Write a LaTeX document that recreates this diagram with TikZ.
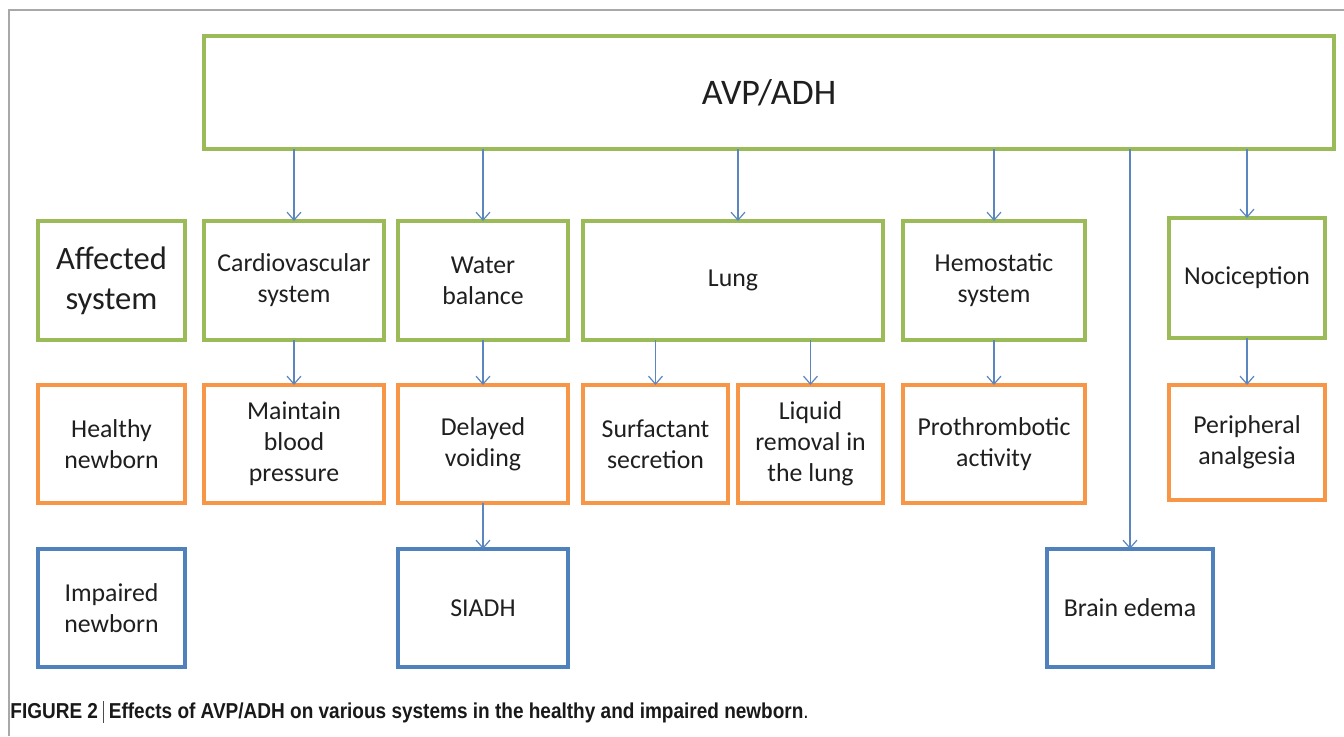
\documentclass[tikz,border=0pt]{standalone}
\usepackage{fontspec}
\setmainfont{Carlito}
\newfontfamily\capfont[FakeStretch=0.88]{Liberation Sans}
\usetikzlibrary{arrows.meta}
\definecolor{bgreen}{HTML}{9BBB59}
\definecolor{borange}{HTML}{F79646}
\definecolor{bblue}{HTML}{4F81BD}
\definecolor{arrcol}{HTML}{5B86BF}
\definecolor{framegray}{HTML}{A8A8A8}
\tikzset{
  box/.style={draw, line width=1.8pt, fill=white, inner sep=2pt, outer sep=0pt, align=center,
    font=\fontsize{12.9}{15.5}\selectfont, text=black!88},
  gbox/.style={box, draw=bgreen},
  obox/.style={box, draw=borange},
  bbox/.style={box, draw=bblue},
  arr/.style={draw=arrcol, line width=0.6pt, -{Straight Barb[length=4pt,width=7pt,line width=0.6pt]}},
}
\begin{document}
\begin{tikzpicture}[x=0.5pt,y=-0.5pt]
\useasboundingbox (0,0) rectangle (1344,736);
\draw[framegray, line width=0.8pt] (9,736) -- (9,10) -- (1344,10);

% top
\node[gbox, minimum width=565pt, minimum height=56.5pt, font=\fontsize{18}{21}\selectfont] (avp) at (769,92.5) {AVP/ADH};

% row 1
\node[gbox, minimum width=73.5pt, minimum height=59.5pt, font=\fontsize{16.3}{20}\selectfont] (aff) at (111.5,280.5) {Affected\\system};
\node[gbox, minimum width=90pt, minimum height=59.5pt] (cardio) at (294,280.5) {Cardiovascular\\system};
\node[gbox, minimum width=85pt, minimum height=59.5pt] (water) at (483,280.5) {Water\\balance};
\node[gbox, minimum width=150pt, minimum height=59.5pt] (lung) at (733,280.5) {Lung};
\node[gbox, minimum width=91pt, minimum height=59.5pt] (hemo) at (994,280.5) {Hemostatic\\system};
\node[gbox, minimum width=78pt, minimum height=60pt] (noci) at (1247,278) {Nociception};

% row 2
\node[obox, minimum width=73.5pt, minimum height=59pt] (healthy) at (111.5,444) {Healthy\\newborn};
\node[obox, minimum width=90pt, minimum height=59pt] (maintain) at (294,444) {Maintain\\blood\\pressure};
\node[obox, minimum width=85pt, minimum height=59pt] (delayed) at (483,444) {Delayed\\voiding};
\node[obox, minimum width=72.5pt, minimum height=59pt] (surf) at (655.5,444) {Surfactant\\secretion};
\node[obox, minimum width=72.5pt, minimum height=59pt] (liquid) at (810.5,444) {Liquid\\removal in\\the lung};
\node[obox, minimum width=91pt, minimum height=59pt] (proth) at (994,444) {Prothrombotic\\activity};
\node[obox, minimum width=78pt, minimum height=57.5pt] (peri) at (1247,442.5) {Peripheral\\analgesia};

% row 3
\node[bbox, minimum width=73.5pt, minimum height=59pt] (impaired) at (111.5,608) {Impaired\\newborn};
\node[bbox, minimum width=85pt, minimum height=59pt] (siadh) at (483,608) {SIADH};
\node[bbox, minimum width=83pt, minimum height=59pt] (brain) at (1130,608) {Brain edema};

% arrows
\draw[arr] (avp.south -| cardio.north) -- (cardio.north);
\draw[arr] (avp.south -| water.north) -- (water.north);
\draw[arr] ([xshift=2.5pt]avp.south -| lung.north) -- ([xshift=2.5pt]lung.north);
\draw[arr] (avp.south -| hemo.north) -- (hemo.north);
\draw[arr] (avp.south -| brain.north) -- (brain.north);
\draw[arr] (avp.south -| noci.north) -- (noci.north);
\draw[arr] (cardio.south) -- (maintain.north);
\draw[arr] (water.south) -- (delayed.north);
\draw[arr] (lung.south -| surf.north) -- (surf.north);
\draw[arr] (lung.south -| liquid.north) -- (liquid.north);
\draw[arr] (hemo.south) -- (proth.north);
\draw[arr] (noci.south) -- (peri.north);
\draw[arr] (delayed.south) -- (siadh.north);

% caption
\node[anchor=west, inner sep=0pt, font=\capfont\fontsize{10.8}{13}\selectfont, text=black!90] (cap) at (10,712)
  {\textbf{FIGURE 2}\hspace{2.5pt}{\color{black!70}\raisebox{-2.2pt}{\rule{0.4pt}{11pt}}}\hspace{2.5pt}\textbf{Effects of AVP/ADH on various systems in the healthy and impaired newborn}.};
\end{tikzpicture}
\end{document}
